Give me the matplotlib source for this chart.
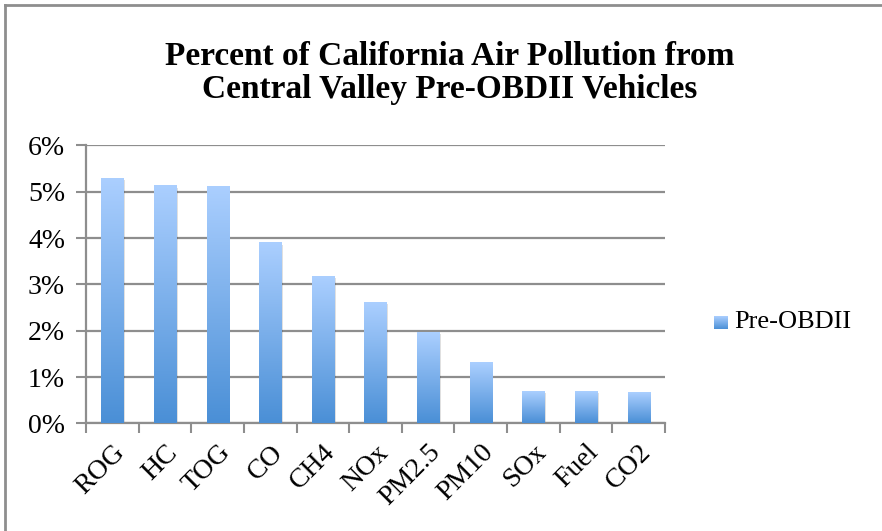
import numpy as np
import matplotlib.pyplot as plt
from matplotlib.colors import LinearSegmentedColormap
from matplotlib.lines import Line2D
from matplotlib.patches import Rectangle

categories = ['ROG', 'HC', 'TOG', 'CO', 'CH4', 'NOx', 'PM2.5', 'PM10', 'SOx', 'Fuel', 'CO2']
values = [5.29, 5.12, 5.10, 3.89, 3.16, 2.60, 1.95, 1.30, 0.68, 0.68, 0.65]  # percent
yticks = [0, 1, 2, 3, 4, 5, 6]
series_name = 'Pre-OBDII'

serif = ['Liberation Serif', 'DejaVu Serif']
grad = LinearSegmentedColormap.from_list('bar', ['#4a8fd6', '#abcfff'])

fig = plt.figure(figsize=(8.82, 5.31), dpi=100)
ax = fig.add_axes([0.0975, 0.2028, 0.6565, 0.5232])

x = np.arange(len(categories))
width = 0.42
bars = ax.bar(x, values, width=width, color='none', zorder=3)

g = np.linspace(1, 0, 256).reshape(-1, 1)
for b in bars:
    x0, w, h = b.get_x(), b.get_width(), b.get_height()
    # soft shadow to the right
    ax.add_patch(Rectangle((x0 + 0.03, 0), w, h - 0.03, color='#000000', alpha=0.12,
                           lw=0, zorder=2))
    ax.imshow(g, extent=[x0, x0 + w, 0, h], aspect='auto', cmap=grad,
              vmin=0, vmax=1, zorder=3)

ax.set_xlim(-0.5, len(categories) - 0.5)
ax.set_ylim(0, 6)

ax.set_yticks(yticks)
ax.set_yticklabels([f'{v}%' for v in yticks], fontsize=20, family=serif)
ax.yaxis.grid(True, color='#8e8e8e', linewidth=1.6, zorder=1)
ax.set_axisbelow(True)

ax.set_xticks(x)
ax.set_xticklabels(categories, rotation=45, ha='right', rotation_mode='anchor',
                   fontsize=20, family=serif)
ax.set_xticks(np.arange(-0.5, len(categories)), minor=True)
ax.tick_params(axis='x', which='major', length=0, pad=12)
ax.tick_params(axis='x', which='minor', length=7, width=1.5, color='#8e8e8e', direction='out')
ax.tick_params(axis='y', length=7, width=1.5, color='#8e8e8e', pad=8)

for s in ['top', 'right']:
    ax.spines[s].set_visible(False)
for s in ['left', 'bottom']:
    ax.spines[s].set_color('#8e8e8e')
    ax.spines[s].set_linewidth(1.6)

fig.text(0.51, 1 - 73 / 531, 'Percent of California Air Pollution from\nCentral Valley Pre-OBDII Vehicles',
         ha='center', va='center', fontsize=24, fontweight='bold', family=serif,
         linespacing=1.12)

# legend
leg_img = fig.add_axes([714 / 882, 1 - 329 / 531, 14 / 882, 13 / 531])
leg_img.imshow(g, aspect='auto', cmap=grad, vmin=0, vmax=1)
leg_img.axis('off')
fig.text(734 / 882, 1 - 322 / 531, series_name, ha='left', va='center',
         fontsize=19, family=serif)

# outer frame (left and top edges visible)
fig.add_artist(Line2D([4.5 / 882, 4.5 / 882], [0, 1 - 4.5 / 531], color='#8e8e8e', lw=2,
                      transform=fig.transFigure))
fig.add_artist(Line2D([4.5 / 882, 1], [1 - 4.5 / 531, 1 - 4.5 / 531], color='#8e8e8e', lw=2,
                      transform=fig.transFigure))

fig.savefig('out.png', dpi=100)
